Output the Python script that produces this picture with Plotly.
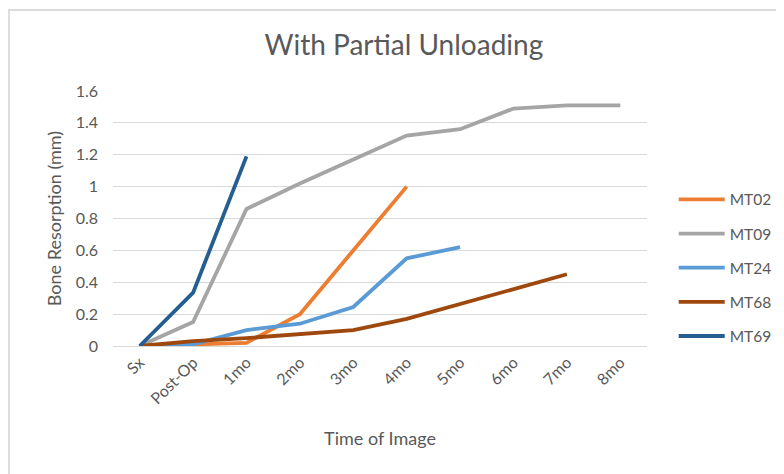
import plotly.graph_objects as go

# time points on the x axis
time_points = ["Sx", "Post-Op", "1mo", "2mo", "3mo", "4mo", "5mo", "6mo", "7mo", "8mo"]

# bone resorption (mm) per patient
mt02 = [0, 0.01, 0.02, 0.20, 0.60, 1.00]
mt09 = [0, 0.15, 0.86, 1.02, 1.17, 1.32, 1.36, 1.49, 1.51, 1.51]
mt24 = [0, 0.01, 0.10, 0.14, 0.245, 0.55, 0.62]
mt68 = [0, 0.03, 0.05, 0.075, 0.10, 0.17, 0.265, 0.36, 0.45]
mt69 = [0, 0.335, 1.19]

series = [
    ("MT02", mt02, "#ED7D31"),
    ("MT09", mt09, "#A5A5A5"),
    ("MT24", mt24, "#5B9BD5"),
    ("MT68", mt68, "#9E480E"),
    ("MT69", mt69, "#255E91"),
]

font_family = "Lato, Open Sans, sans-serif"
grey_text = "#595959"

fig = go.Figure()
for name, vals, color in series:
    fig.add_trace(go.Scatter(
        x=time_points[:len(vals)],
        y=vals,
        mode="lines",
        name=name,
        legendgroup=name,
        line=dict(color=color, width=3.8),
    ))

# the page body adds an 8px offset, so margins are shifted up/left by 8
fig.update_layout(
    width=784,
    height=474,
    paper_bgcolor="white",
    plot_bgcolor="white",
    margin=dict(l=105, r=145, t=83, b=136),
    font=dict(family=font_family, color=grey_text, size=16),
    title=dict(
        text="With Partial Unloading",
        x=0.505, xanchor="center",
        y=0.922, yanchor="middle",
        font=dict(size=28, color=grey_text),
    ),
    legend=dict(
        x=1.05, xanchor="left",
        y=0.64, yanchor="top",
        traceorder="grouped",
        tracegroupgap=11,
        font=dict(size=15.5, color=grey_text),
        itemwidth=46,
    ),
    showlegend=True,
)

fig.update_xaxes(
    type="category",
    categoryorder="array",
    categoryarray=time_points,
    range=[-0.5, len(time_points) - 0.5],
    tickangle=-45,
    showgrid=False,
    showline=True,
    linecolor="#D9D9D9",
    ticks="",
    automargin=False,
    title=dict(text="Time of Image", font=dict(size=18, color=grey_text), standoff=26),
)

fig.update_yaxes(
    range=[0, 1.6],
    dtick=0.2,
    tickformat="~g",
    showgrid=True,
    gridcolor="#D9D9D9",
    zeroline=False,
    showline=False,
    ticks="",
    ticklabelstandoff=14,
    automargin=False,
    title=dict(text="Bone Resorption (mm)", font=dict(size=18, color=grey_text), standoff=9),
)

# chart frame: only the top and left edges show in the cropped screenshot
fig.add_shape(
    type="rect", xref="paper", yref="paper",
    x0=-0.195, x1=1.5, y0=-0.7, y1=1.318,
    line=dict(color="#DCDCDC", width=2),
)

fig.write_html("out.html")
